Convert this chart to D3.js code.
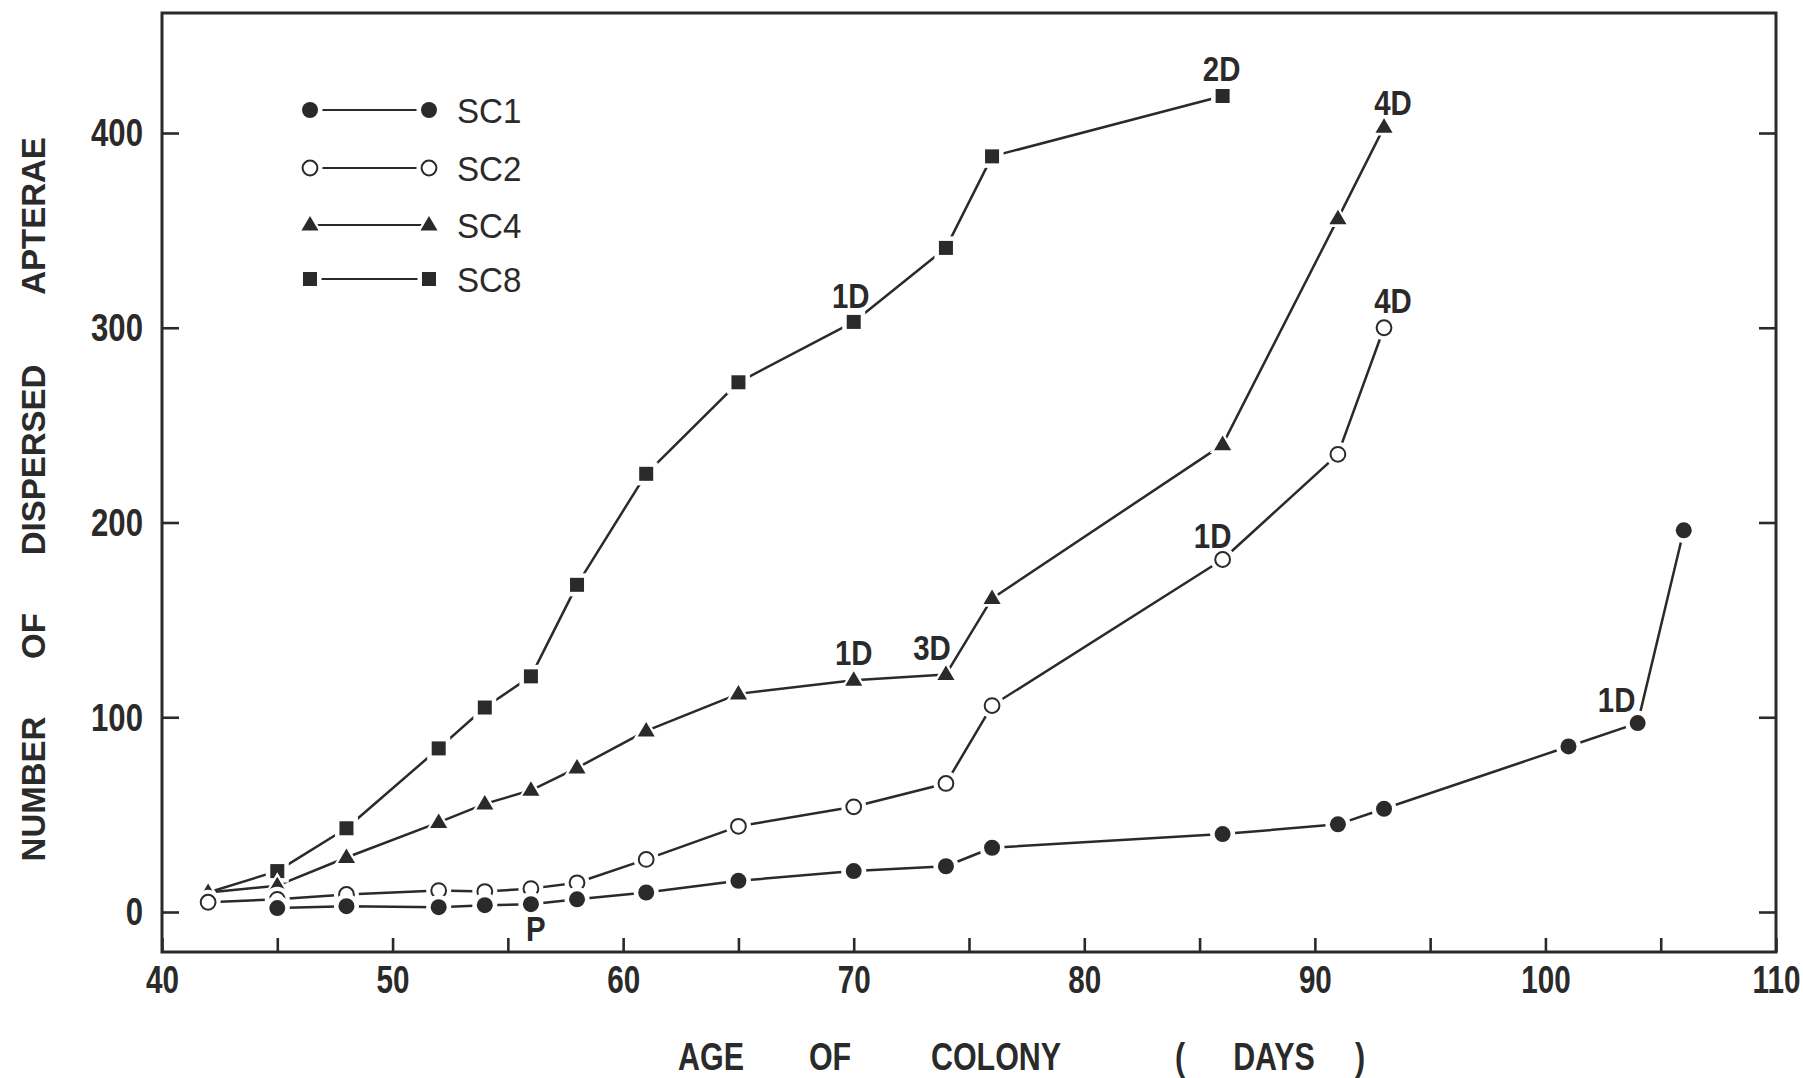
<!DOCTYPE html>
<html>
<head>
<meta charset="utf-8">
<script src="https://cdn.jsdelivr.net/npm/d3@7"></script>
<style>
  html, body { margin: 0; padding: 0; background: #fff; }
  svg { display: block; }
  text { font-family: "Liberation Sans", Arial, Helvetica, sans-serif; }
</style>
</head>
<body>
<svg id="chart" width="1803" height="1078"></svg>
<script>
// Dispersed apterae per colony, by colony age (days)
const sc1Days   = [45, 48, 52, 54, 56, 58, 61, 65, 70, 74, 76, 86, 91, 93, 101, 104, 106];
const sc1Values = [2, 3, 2.5, 3.5, 4, 6.5, 10, 16, 21, 23.5, 33, 40, 45, 53, 85, 97, 196];

const sc2Days   = [42, 45, 48, 52, 54, 56, 58, 61, 65, 70, 74, 76, 86, 91, 93];
const sc2Values = [5, 6.5, 9, 11, 10.5, 12, 15, 27, 44, 54, 66, 106, 181, 235, 300];

const sc4Days   = [42, 45, 48, 52, 54, 56, 58, 61, 65, 70, 74, 76, 86, 91, 93];
const sc4Values = [10, 13.5, 28, 46, 55.5, 62.5, 74, 93, 112, 119, 122, 161, 240, 356, 403];

const sc8Days   = [42, 45, 48, 52, 54, 56, 58, 61, 65, 70, 74, 76, 86];
const sc8Values = [10, 21, 43, 84, 105, 121, 168, 225, 272, 303, 341, 388, 419];

const seriesNames = ["SC1", "SC2", "SC4", "SC8"];

const xTickValues = [40, 45, 50, 55, 60, 65, 70, 75, 80, 85, 90, 95, 100, 105, 110];
const yTickValues = [0, 100, 200, 300, 400];

// Point notes: series, day, text
const noteSeries = ["SC8", "SC8", "SC4", "SC4", "SC4", "SC2", "SC2", "SC1", "SC1"];
const noteDays   = [70, 86, 70, 74, 93, 86, 93, 104, 56];
const noteTexts  = ["1D", "2D", "1D", "3D", "4D", "1D", "4D", "1D", "P"];

const xTitleWords = ["AGE", "OF", "COLONY", "(", "DAYS", ")"];
const yTitleWords = ["NUMBER", "OF", "DISPERSED", "APTERAE"];

// ---- layout ----
const frame = { left: 162, right: 1776, top: 13, bottom: 952 };
const ink = "#2a2a2a";

const x = d3.scaleLinear().domain([40, 110]).range([frame.left, frame.right]);
const y = d3.scaleLinear().domain([0, 400]).range([912, 133]);

const svg = d3.select("#chart");

// squeeze a text horizontally around its own anchor point
function condense(sel, sx) {
  sel.each(function () {
    const t = d3.select(this);
    const tx = +t.attr("x") || 0, ty = +t.attr("y") || 0;
    const prev = t.attr("transform") || "";
    t.attr("x", null).attr("y", null)
      .attr("transform", `${prev} translate(${tx},${ty}) scale(${sx},1)`);
  });
}

const series = [
  { name: "SC8", shape: "square",   days: sc8Days, values: sc8Values },
  { name: "SC4", shape: "triangle", days: sc4Days, values: sc4Values },
  { name: "SC2", shape: "open",     days: sc2Days, values: sc2Values },
  { name: "SC1", shape: "filled",   days: sc1Days, values: sc1Values }
].map(s => ({ ...s, points: s.days.map((d, i) => ({ day: d, value: s.values[i] })) }));

// ---- axes ----
const bottomAxis = d3.axisBottom(x)
  .tickValues(xTickValues)
  .tickSizeInner(-14).tickSizeOuter(0)
  .tickPadding(14)
  .tickFormat(d => d % 10 === 0 ? d : "");
const gx = svg.append("g").attr("transform", `translate(0,${frame.bottom})`).call(bottomAxis);

const leftAxis = d3.axisLeft(y)
  .tickValues(yTickValues)
  .tickSizeInner(-17).tickSizeOuter(0)
  .tickPadding(19);
const gy = svg.append("g").attr("transform", `translate(${frame.left},0)`).call(leftAxis);

const rightAxis = d3.axisRight(y)
  .tickValues(yTickValues)
  .tickSizeInner(-17).tickSizeOuter(0)
  .tickFormat("");
const gr = svg.append("g").attr("transform", `translate(${frame.right},0)`).call(rightAxis);

[gx, gy, gr].forEach(g => {
  g.select(".domain").remove();
  g.selectAll(".tick line").attr("stroke", ink).attr("stroke-width", 2.6);
  g.selectAll(".tick text")
    .attr("fill", ink)
    .attr("font-family", "'Liberation Sans', Arial, sans-serif")
    .attr("font-size", 38)
    .attr("font-weight", "bold");
});
gy.selectAll(".tick text").attr("dy", "0.34em");
gx.selectAll(".tick text").attr("dy", "0.72em");
condense(gx.selectAll(".tick text"), 0.78);
condense(gy.selectAll(".tick text"), 0.82);

// plot frame
svg.append("rect")
  .attr("x", frame.left).attr("y", frame.top)
  .attr("width", frame.right - frame.left).attr("height", frame.bottom - frame.top)
  .attr("fill", "none").attr("stroke", ink).attr("stroke-width", 3);

// ---- series lines ----
const line = d3.line().x(d => x(d.day)).y(d => y(d.value));
svg.append("g").selectAll("path").data(series).join("path")
  .attr("d", s => line(s.points))
  .attr("fill", "none").attr("stroke", ink).attr("stroke-width", 2.5)
  .attr("stroke-linejoin", "round");

// ---- markers ----
function drawMarker(g, shape, cx, cy) {
  const halo = "#fff";
  if (shape === "filled" || shape === "open") {
    g.append("circle").attr("cx", cx).attr("cy", cy).attr("r", 12.5).attr("fill", halo);
    g.append("circle").attr("cx", cx).attr("cy", cy)
      .attr("r", shape === "open" ? 7.4 : 8)
      .attr("fill", shape === "open" ? "#fff" : ink)
      .attr("stroke", ink).attr("stroke-width", shape === "open" ? 2 : 0);
  } else if (shape === "square") {
    g.append("rect").attr("x", cx - 11.5).attr("y", cy - 11.5).attr("width", 23).attr("height", 23).attr("fill", halo);
    g.append("rect").attr("x", cx - 7).attr("y", cy - 7).attr("width", 14).attr("height", 14).attr("fill", ink);
  } else {
    const tri = r => `M${cx},${cy - r} L${cx + r * 0.95},${cy + r * 0.62} L${cx - r * 0.95},${cy + r * 0.62} Z`;
    g.append("path").attr("d", tri(13.5)).attr("fill", halo);
    g.append("path").attr("d", tri(9)).attr("fill", ink);
  }
}

// later series sit on top; a point shared with a later series shows only the top marker
const markerList = [];
series.forEach(s => s.points.forEach(p => markerList.push({ shape: s.shape, day: p.day, value: p.value })));
const topMost = new Map();
markerList.forEach((m, i) => topMost.set(`${m.day}|${m.value}`, i));
const gm = svg.append("g");
markerList.forEach((m, i) => {
  if (topMost.get(`${m.day}|${m.value}`) !== i) return;
  drawMarker(gm.append("g"), m.shape, x(m.day), y(m.value));
});

// ---- point notes ----
const noteOffsets = [[-3, -27], [-1, -28], [0, -28], [-14, -27], [9, -25], [-10, -24], [9, -27], [-21, -24], [5, 24]];
const byName = Object.fromEntries(series.map(s => [s.name, s]));
const notes = svg.append("g");
noteTexts.forEach((t, i) => {
  const s = byName[noteSeries[i]];
  const v = s.values[s.days.indexOf(noteDays[i])];
  notes.append("text")
    .attr("x", x(noteDays[i]) + noteOffsets[i][0])
    .attr("y", y(v) + noteOffsets[i][1])
    .attr("text-anchor", "middle").attr("dy", "0.36em")
    .attr("font-size", 35).attr("font-weight", "bold").attr("fill", ink)
    .text(t);
});
condense(notes.selectAll("text"), 0.84);

// ---- legend ----
const legendRows = [110, 168, 225, 279];
const legendShapes = { SC1: "filled", SC2: "open", SC4: "triangle", SC8: "square" };
const gl = svg.append("g");
seriesNames.forEach((n, i) => {
  const ly = legendRows[i];
  gl.append("line").attr("x1", 310).attr("x2", 429).attr("y1", ly).attr("y2", ly)
    .attr("stroke", ink).attr("stroke-width", 2.2);
  drawMarker(gl.append("g"), legendShapes[n], 310, ly);
  drawMarker(gl.append("g"), legendShapes[n], 429, ly);
  gl.append("text").attr("class", "legend-label")
    .attr("x", 457).attr("y", ly).attr("dy", "0.36em")
    .attr("font-size", 36).attr("fill", ink)
    .text(n);
});
condense(gl.selectAll(".legend-label"), 0.92);

// ---- axis titles ----
const xTitleCenters = [711, 830, 996, 1180, 1274, 1360];
const gxt = svg.append("g");
xTitleWords.forEach((w, i) => {
  gxt.append("text")
    .attr("x", xTitleCenters[i]).attr("y", 1056).attr("dy", "0.36em")
    .attr("text-anchor", "middle")
    .attr("font-size", 38).attr("font-weight", "bold").attr("fill", ink)
    .text(w);
});
condense(gxt.selectAll("text"), 0.8);

const yTitleCenters = [789, 636, 460, 216];
yTitleWords.forEach((w, i) => {
  svg.append("text")
    .attr("transform", `translate(33,${yTitleCenters[i]}) rotate(-90)`)
    .attr("dy", "0.36em").attr("text-anchor", "middle")
    .attr("font-size", 33).attr("font-weight", "bold").attr("fill", ink)
    .text(w);
});
</script>
</body>
</html>
